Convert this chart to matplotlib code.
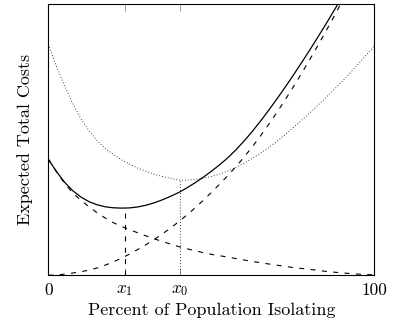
import matplotlib

matplotlib.use("Agg")
import matplotlib.pyplot as plt

# Values (x in percent, y in arbitrary cost units)
pct = [0, 2.5, 5, 7.5, 10, 12.5, 15, 17.5, 20, 22.5, 25, 27.5, 30, 32.5, 35, 37.5, 40,
       42.5, 45, 47.5, 50, 52.5, 55, 57.5, 60, 62.5, 65, 67.5, 70, 72.5, 75, 77.5, 80,
       82.5, 85, 87.5, 90, 92.5, 95, 97.5, 100]
cost_infection = [116.5, 103.5, 91.8, 82.5, 75, 68.5, 62.5, 57.2, 52.6, 48.8, 45.6, 42.4,
                  39.4, 36.5, 33.8, 31.2, 28.7, 26.6, 24.6, 22.7, 21, 19.6, 18.3, 16.8,
                  15.3, 13.9, 12.6, 11.4, 10.2, 9, 7.8, 6.9, 6, 5, 4, 3.2, 2.4, 1.8, 1.2,
                  0.8, 0.4]
cost_isolation = [0, 0.4, 1.2, 2.3, 3.6, 5.2, 7.4, 10.2, 13.5, 17.2, 21.4, 25.9, 30.7,
                  35.9, 41.4, 47.3, 53.6, 60.3, 67.4, 74.9, 82.8, 91.0, 99.5, 108.5, 118.0,
                  128.2, 139.0, 150.4, 162.3, 174.7, 187.6, 200.9, 214.6, 228.7, 243.2,
                  258.0, 273.2, 288.6, 304, 320, 336]
cost_total = [116, 103.8, 93, 84.6, 78.3, 73.6, 70.5, 68.5, 67.5, 67.2, 67.4, 68.4, 70.1,
              72.5, 75.5, 79, 82.8, 87.4, 92.5, 98, 104, 110.4, 117.3, 125.3, 134.1, 143.6,
              153.8, 164.6, 175.8, 187.4, 199.4, 211.7, 224.3, 237.2, 250.4, 263.9, 277.7,
              291.8, 306, 320, 335]
cost_alt = [231, 209, 189.2, 171.6, 156.6, 144.3, 134.5, 126.8, 120.6, 115.4, 111, 107.2,
            103.9, 101.1, 98.8, 96.9, 95.2, 95.2, 95.8, 97, 98.8, 101.2, 104.2, 107.8, 112,
            116.7, 121.9, 127.5, 133.6, 140.2, 147.2, 154.4, 161.8, 169.4, 177.2, 185.2,
            193.5, 202.1, 211, 220.1, 229.4]

x1_pos, x1_cost = 23.5, 67.2
x0_pos, x0_cost = 40.4, 95.0
y_top = 271

tick_pos = [0, x1_pos, x0_pos, 100]
tick_labels = ["0", "$x_1$", "$x_0$", "100"]

plt.rcParams["font.family"] = "serif"
plt.rcParams["font.serif"] = ["cmr10", "DejaVu Serif"]
plt.rcParams["mathtext.fontset"] = "cm"
plt.rcParams["axes.formatter.use_mathtext"] = True
plt.rcParams["lines.scale_dashes"] = False

DASH = (0, (3.6, 4.6))
DOT = (0, (0.6, 1.5))

fig = plt.figure(figsize=(3.95, 3.26), dpi=100)
ax = fig.add_axes((0.1223, 0.1555, 0.8253, 0.8313))

ax.plot(pct, cost_total, color="black", linewidth=0.9)
ax.plot(pct, cost_infection, color="black", linewidth=0.8, linestyle=DASH)
ax.plot(pct, cost_isolation, color="black", linewidth=0.8, linestyle=DASH)
ax.plot(pct, cost_alt, color="black", linewidth=0.6, linestyle=DOT)

ax.plot([x1_pos, x1_pos], [0, x1_cost], color="black", linewidth=0.8, linestyle=DASH)
ax.plot([x0_pos, x0_pos], [0, x0_cost], color="black", linewidth=0.6, linestyle=DOT)

ax.set_xlim(0, 100)
ax.set_ylim(0, y_top)
ax.set_xticks(tick_pos)
ax.set_xticklabels(tick_labels, fontsize=12.5)
ax.set_yticks([])
ax.tick_params(axis="x", direction="in", top=True, length=5, width=0.4, color="#555555", pad=5)

for sp in ax.spines.values():
    sp.set_linewidth(0.8)

ax.set_xlabel("Percent of Population Isolating", fontsize=13, labelpad=4)
ax.set_ylabel("Expected Total Costs", fontsize=13, labelpad=11)

fig.savefig("out.png", dpi=100)
